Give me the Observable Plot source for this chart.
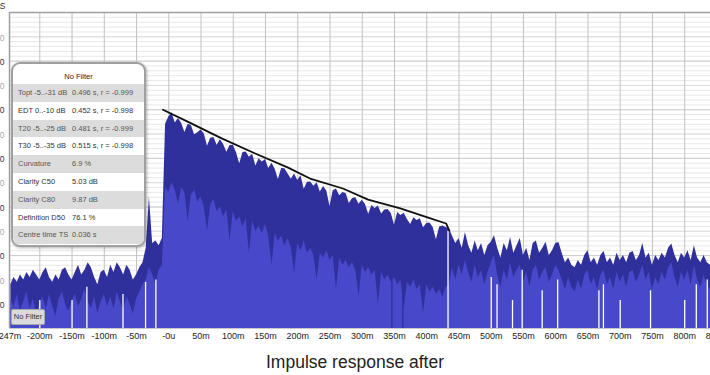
<!DOCTYPE html>
<html><head><meta charset="utf-8">
<script src="https://cdn.jsdelivr.net/npm/d3@7"></script>
<script src="https://cdn.jsdelivr.net/npm/@observablehq/plot@0.6"></script>
<style>
body{margin:0;background:#fff;font-family:"Liberation Sans",Arial,sans-serif;}
#wrap{position:relative;width:710px;height:375px;overflow:hidden;background:#fff;}
#title{position:absolute;left:0;width:710px;top:351px;text-align:center;font-size:17.5px;color:#222;line-height:22px;}
#panel{position:absolute;left:11px;top:62px;width:131px;height:181px;border:2px solid #a0a0a0;border-radius:9px;background:#fff;box-shadow:1px 1px 3px rgba(0,0,0,.3);font-size:7.5px;color:#333;overflow:hidden;}
.ptitle{height:20px;line-height:25px;text-align:center;color:#222;}
.row{display:flex;height:17.8px;line-height:17.8px;white-space:nowrap;}
.row.g{background:#dcdcdc;color:#555;}
.row .l{width:54px;padding-left:5px;}
#legend{position:absolute;left:11px;top:309px;width:32px;height:14px;border:1px solid #a8a8a8;border-radius:2px;background:#dadada;font-size:7.5px;line-height:14px;text-align:center;color:#333;}
</style></head>
<body>
<div id="wrap">
  <div id="chart"></div>
  <div id="title">Impulse response after</div>
  <div id="panel"></div>
  <div id="legend">No Filter</div>
</div>
<script>
// impulse response sampled every 5 ms starting at -245 ms (dBFS)
const t0 = -245, dt = 5;
const hi = [
 -112,-109,-111,-108,-110,-107,-109,-106,-108,-110,
 -107,-105,-109,-111,-108,-110,-106,-105,-108,-110,
 -107,-104,-108,-106,-103,-105,-109,-112,-107,-106,
 -109,-104,-107,-103,-105,-108,-104,-106,-110,-108,
 -105,-103,-97,-76,-95,-94,-96,-93,-46,-43,
 -41.2,-45.5,-43.6,-45.7,-49.4,-46,-46.5,-50.3,-49.5,-48.3,
 -49.9,-55,-51.7,-51.4,-54.6,-52.4,-54.3,-57.5,-54.7,-54.6,
 -57.7,-62.2,-57.6,-57.4,-59.6,-58.3,-63.1,-60.2,-61.5,-60.5,
 -64.2,-62,-64.5,-68.7,-64.2,-64.3,-66.4,-68.6,-66.4,-69.1,
 -67.2,-72.7,-69.8,-69.7,-71.5,-70,-73.8,-71.6,-73.4,-79.8,
 -73.3,-72.6,-75.4,-74.1,-74.5,-78.6,-76.5,-76.2,-78.9,-77.2,
 -79,-83,-79.4,-80.6,-79.6,-82.9,-81.3,-81,-82.7,-87.4,
 -82.3,-83.5,-82.6,-85.2,-87.2,-84.4,-85.6,-84.8,-88.6,-86.8,
 -86.6,-88.4,-93.5,-88.2,-87.8,-88.5,-89,-92,-95,-93,
 -97,-90.5,-96,-99,-94,-98,-95,-100,-96,-94.5,
 -91.8,-97,-101,-95,-98,-92.6,-99,-96,-93,-100,
 -97,-102,-95,-94,-99,-97,-94.5,-100,-98,-95,
 -94.6,-99,-103,-101,-104,-105,-102,-104,-100,-98,
 -103,-101,-104,-100,-98.3,-103,-101,-104,-99,-102,
 -100,-103,-99,-98.3,-102,-100,-95,-101,-99,-104,
 -100,-102,-99,-101,-97,-95.2,-100,-103,-99,-101,
 -98,-102,-96,-101,-103,-100,-103,-104
];
const lo = [
 -118,-121,-116,-123,-119,-115,-122,-118,-124,-120,
 -117,-122,-116,-121,-125,-118,-115,-120,-123,-119,
 -116,-121,-118,-114,-119,-122,-117,-124,-119,-116,
 -121,-117,-122,-115,-119,-123,-117,-120,-124,-118,
 -115,-112,-110,-105,-108,-112,-106,-104,-72,-74,
 -70,-73,-79,-72,-74,-86,-75,-73,-78,-76,
 -80,-90,-79,-77,-82,-80,-84,-81,-94,-82,
 -86,-84,-88,-85,-99,-86,-90,-88,-91,-87,
 -92,-104,-91,-94,-92,-96,-93,-97,-107,-95,
 -98,-94,-99,-97,-100,-110,-99,-101,-98,-102,
 -100,-114,-101,-104,-102,-105,-103,-106,-117,-104,
 -107,-105,-108,-106,-120,-107,-110,-108,-111,-109,
 -112,-110,-122,-111,-113,-110,-114,-112,-124,-112,
 -115,-113,-116,-114,-117,-113,-112,-105,-110,-104,
 -108,-102,-107,-111,-104,-109,-106,-112,-107,-103,
 -100,-108,-113,-106,-110,-103,-109,-106,-104,-111,
 -107,-113,-106,-104,-110,-107,-105,-111,-108,-104,
 -106,-110,-114,-109,-113,-115,-110,-114,-108,-106,
 -112,-109,-114,-108,-106,-112,-109,-114,-107,-111,
 -108,-113,-107,-106,-111,-108,-104,-110,-107,-114,
 -109,-112,-107,-110,-105,-103,-109,-113,-107,-110,
 -106,-112,-104,-110,-113,-108,-112,-114
];
// decay (black) curve
const decayT  = [-9, 30, 82, 134, 185, 219, 270, 309, 359, 401, 430, 435];
const decayDb = [-40, -45, -51.8, -58, -63.8, -68.3, -72.4, -77, -80.6, -84.3, -86.8, -89.7];
// deep dips (white gaps) and deep dark strokes
const gapT   = [-200, -150, -127, -71, -36, -20, 433, 500, 509, 533, 548, 579, 603, 667, 674, 700, 747, 800, 818, 835];
const gapTop = [-118.5, -118.5, -113, -116, -111, -110, -90, -109, -112, -118.5, -106, -114.5, -110, -114.5, -112, -118.5, -114.5, -118.5, -112, -110];
const darkT   = [346, 363];
const darkTop = [-108, -107];
// axes
const xTicks  = [-200,-150,-100,-50,0,50,100,150,200,250,300,350,400,450,500,550,600,650,700,750,800,850];
const xLabels = ["-200m","-150m","-100m","-50m","-0u","50m","100m","150m","200m","250m","300m","350m","400m","450m","500m","550m","600m","650m","700m","750m","800m","850m"];
const yMajor = [-20,-40,-60,-80,-100,-120];
const yMid   = [-10,-30,-50,-70,-90,-110];
// info panel
const panelTitle = "No Filter";
const panelLabels = ["Topt -5..-31 dB","EDT 0..-10 dB","T20 -5..-25 dB","T30 -5..-35 dB","Curvature","Clarity C50","Clarity C80","Definition D50","Centre time TS"];
const panelValues = ["0.496 s,  r = -0.999","0.452 s,  r = -0.998","0.481 s,  r = -0.999","0.515 s,  r = -0.998","6.9 %","5.03 dB","9.87 dB","76.1 %","0.036 s"];

const BOTTOM = -130;
const samples = hi.map((h, i) => ({t: t0 + i * dt, hi: h, lo: lo[i]}));
const decay = decayT.map((t, i) => ({t, db: decayDb[i]}));
const gaps = gapT.map((t, i) => ({t, top: gapTop[i]}));
const darks = darkT.map((t, i) => ({t, top: darkTop[i]}));

const chart = Plot.plot({
  width: 710, height: 345,
  marginTop: 12, marginBottom: 17, marginLeft: 9, marginRight: 0,
  style: {background: "#fff", fontFamily: '"Liberation Sans", Arial, sans-serif', fontSize: "9px"},
  x: {domain: [-247, 840], axis: null},
  y: {domain: [BOTTOM, 0], axis: null},
  marks: [
    Plot.ruleY(d3.range(-128, 0, 2), {stroke: "#e8e8e8"}),
    Plot.ruleY(yMid, {stroke: "#dddddd"}),
    Plot.ruleY(yMajor, {stroke: "#cdcdcd"}),
    Plot.ruleX(xTicks, {stroke: "#c2c2c2"}),
    Plot.areaY(samples, {x: "t", y1: () => BOTTOM, y2: "hi", fill: "#30309c"}),
    Plot.areaY(samples, {x: "t", y1: () => BOTTOM, y2: "lo", fill: "#4848ca"}),
    Plot.ruleX(gaps, {x: "t", y1: "top", y2: () => BOTTOM, stroke: "#ffffff", strokeWidth: 1.3}),
    Plot.ruleX(darks, {x: "t", y1: "top", y2: () => BOTTOM, stroke: "#30309c", strokeWidth: 1.3}),
    Plot.line(decay, {x: "t", y: "db", stroke: "#111", strokeWidth: 1.8}),
    Plot.ruleY([0], {stroke: "#a0a0a0", strokeWidth: 1.5}),
    Plot.ruleX([-247], {stroke: "#a0a0a0", strokeWidth: 1.5}),
    Plot.ruleY([BOTTOM], {stroke: "#c8c8c8"}),
    Plot.text(xTicks, {x: d => d, y: () => BOTTOM, text: (d, i) => xLabels[i], dy: 8, fill: "#222"}),
    Plot.text(["-247m"], {x: () => -247, y: () => BOTTOM, text: d => d, dy: 8, dx: -1, fill: "#222"}),
    Plot.text(yMajor, {x: () => -247, y: d => d, text: d => String(d), textAnchor: "end", dx: -5, dy: 1, fill: "#333", fontSize: 8.5}),
    Plot.text(yMid, {x: () => -247, y: d => d, text: d => String(d), textAnchor: "end", dx: -5, dy: 1, fill: "#aaa", fontSize: 8.5}),
    Plot.text(["dBFS"], {x: () => -247, y: () => 0, text: d => d, textAnchor: "end", dx: -4, dy: -6, fill: "#333", fontSize: 8.5})
  ]
});
document.getElementById("chart").appendChild(chart);

const panel = document.getElementById("panel");
const t = document.createElement("div");
t.className = "ptitle"; t.textContent = panelTitle; panel.appendChild(t);
panelLabels.forEach((lab, i) => {
  const r = document.createElement("div");
  r.className = "row" + (i % 2 === 0 ? " g" : "");
  const a = document.createElement("span"); a.className = "l"; a.textContent = lab;
  const b = document.createElement("span"); b.textContent = panelValues[i];
  r.appendChild(a); r.appendChild(b); panel.appendChild(r);
});
</script>
</body></html>
